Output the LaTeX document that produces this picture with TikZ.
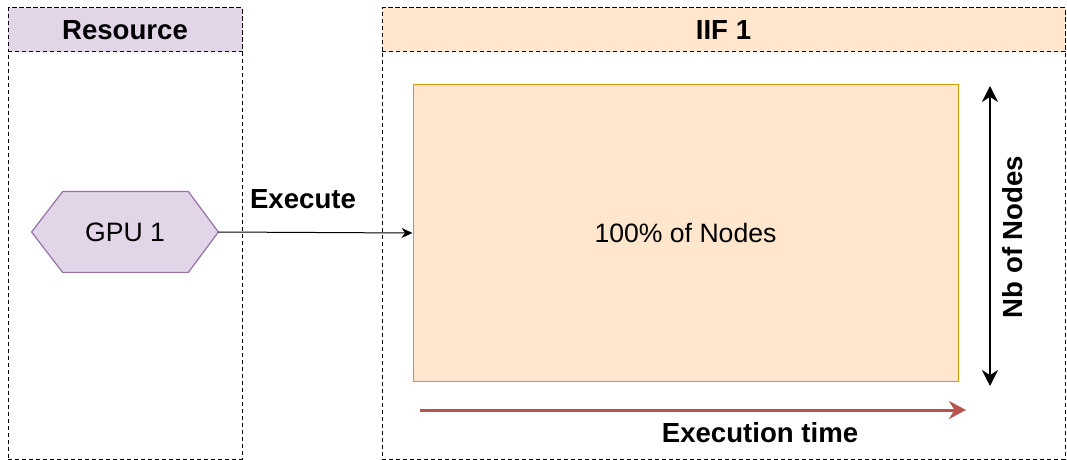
\documentclass[tikz,border=0pt]{standalone}
\usepackage{fontspec}
\setmainfont{Liberation Sans}
\usetikzlibrary{arrows.meta,calc}
\definecolor{lav}{HTML}{E1D5E7}
\definecolor{lavd}{HTML}{9673A6}
\definecolor{peach}{HTML}{FFE6CC}
\definecolor{peachd}{HTML}{D79B00}
\definecolor{redd}{HTML}{B85450}
\tikzset{
  lane/.style={draw, dashed, line width=0.5pt, dash pattern=on 2pt off 1.5pt, inner sep=0pt},
  hdr/.style={lane, font=\bfseries\fontsize{13.8}{16}\selectfont},
  lbl/.style={font=\fontsize{13.3}{16}\selectfont},
  blbl/.style={font=\bfseries\fontsize{13.8}{16}\selectfont},
}
\begin{document}
\begin{tikzpicture}[x=0.5pt,y=-0.5pt]
\useasboundingbox (0,0) rectangle (1067,460);
% lanes
\node[lane, minimum width=117pt, minimum height=225.5pt] (reslane) at (125,233.5) {};
\node[hdr, fill=lav, minimum width=117pt, minimum height=22pt] (reshdr) at (125,30) {Resource};
\node[lane, minimum width=341.5pt, minimum height=225.5pt] (iiflane) at (723.5,233.5) {};
\node[hdr, fill=peach, minimum width=341.5pt, minimum height=22pt] (iifhdr) at (723.5,30) {IIF 1};
% big block
\node[lbl, draw=peachd, fill=peach, line width=0.5pt, minimum width=272.5pt, minimum height=148pt] (big) at (685.5,233) {100\% of Nodes};
% GPU hexagon
\node[lbl, minimum width=93pt, minimum height=40pt, inner sep=0pt] (gpu) at (125,232) {};
\fill[lav, draw=lavd, line width=0.6pt] (gpu.west) -- ($(gpu.north west)+(31,0)$) -- ($(gpu.north east)+(-30,0)$) -- (gpu.east) -- ($(gpu.south east)+(-30,0)$) -- ($(gpu.south west)+(31,0)$) -- cycle;
\node[lbl] at (gpu.center) {GPU 1};
% execute arrow
\draw[line width=0.5pt, -{Stealth[length=5.5pt,width=5pt]}] (gpu.east) -- (big.west);
\node[blbl] (exe) at (303,199) {Execute};
% vertical double arrow
\coordinate (vt) at (990,86);
\coordinate (vb) at (990,386);
\draw[line width=1.1pt, {Stealth[length=8pt,width=8pt]}-{Stealth[length=8pt,width=8pt]}] (vt) -- (vb);
\node[blbl, rotate=90] (nb) at (1013,237) {Nb of Nodes};
% execution time arrow
\coordinate (tl) at (420,410);
\coordinate (tr) at (966,410);
\draw[redd, line width=1.5pt, -{Stealth[length=8.5pt,width=9pt]}] (tl) -- (tr);
\node[blbl] (et) at (760,433) {Execution time};
\end{tikzpicture}
\end{document}
